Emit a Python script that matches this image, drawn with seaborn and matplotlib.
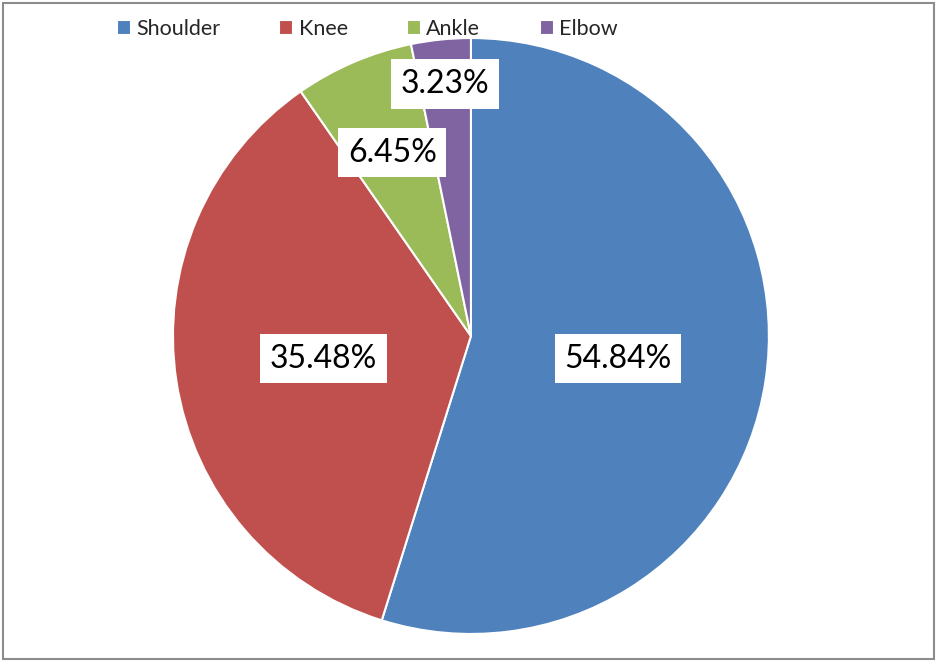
import numpy as np
import matplotlib
matplotlib.use("Agg")
import matplotlib.pyplot as plt
import seaborn as sns
from matplotlib.patches import Rectangle

# data: injury site counts (shares 54.84 / 35.48 / 6.45 / 3.23 %)
sites = ["Shoulder", "Knee", "Ankle", "Elbow"]
counts = [17, 11, 2, 1]
site_colors = ["#4F81BD", "#C0504D", "#9BBB59", "#8064A2"]

sns.set_theme(style="white")
plt.rcParams["font.family"] = ["Lato", "DejaVu Sans"]
palette = sns.color_palette(site_colors)

fig = plt.figure(figsize=(9.37, 6.62), dpi=100)
ax = fig.add_axes([0.1846, 0.0423, 0.636, 0.9003])

wedges, texts, autotexts = ax.pie(
    counts, colors=palette, startangle=90, counterclock=False,
    autopct="%.2f%%", pctdistance=0.5, radius=1,
    wedgeprops=dict(edgecolor="white", linewidth=1.5),
    textprops=dict(fontsize=23, color="black"),
)

# excel "best fit" places small-slice labels further out
label_dist = [0.5, 0.5, 0.67, 0.85]
for w, t, d in zip(wedges, autotexts, label_dist):
    mid = np.deg2rad((w.theta1 + w.theta2) / 2)
    t.set_position((d * np.cos(mid), d * np.sin(mid)))
    t.set_bbox(dict(boxstyle="square,pad=0.3", facecolor="white", edgecolor="none"))

ax.set_xlim(-1, 1)
ax.set_ylim(-1, 1)
ax.set_aspect("equal")
ax.axis("off")

fig.legend(wedges, sites, loc="upper left", bbox_to_anchor=(0.106, 0.997),
           ncol=4, frameon=False, fontsize=15.5, handlelength=0.65,
           handleheight=0.65, handletextpad=0.25, columnspacing=2.75,
           borderaxespad=0.5, borderpad=0.3)

fig.patches.append(Rectangle((0.003, 0.004), 0.994, 0.991, transform=fig.transFigure,
                             fill=False, edgecolor="#8c8c8c", linewidth=1.5))

plt.savefig("out.png", dpi=100)
